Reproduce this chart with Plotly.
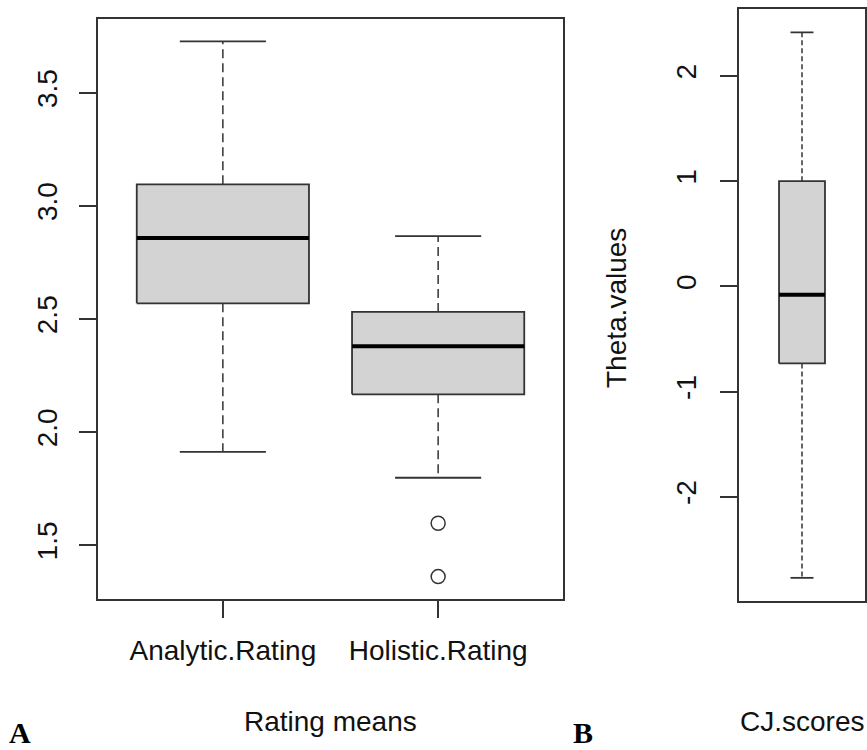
import plotly.graph_objects as go

# ---- data ----
rating_categories = ["Analytic.Rating", "Holistic.Rating"]
rating_lower = [1.912, 1.798]
rating_q1 = [2.569, 2.167]
rating_median = [2.858, 2.379]
rating_q3 = [3.095, 2.531]
rating_upper = [3.727, 2.866]
rating_outliers = [[], [1.597, 1.361]]
rating_yticks = [1.5, 2.0, 2.5, 3.0, 3.5]
rating_yticklabels = ["1.5", "2.0", "2.5", "3.0", "3.5"]

cj_lower = [-2.77]
cj_q1 = [-0.732]
cj_median = [-0.079]
cj_q3 = [1.0]
cj_upper = [2.415]
cj_yticks = [-2, -1, 0, 1, 2]
cj_yticklabels = ["-2", "-1", "0", "1", "2"]

W, H = 867, 750
FONT = "Liberation Sans, Arial, sans-serif"
LINE = "#333333"
FILL = "#d3d3d3"

fig = go.Figure()


def add_boxes(xa, ya, lower, q1, med, q3, upper, outliers, hw, dash):
    for i in range(len(med)):
        c = i + 1
        # whiskers (dashed)
        fig.add_trace(go.Scatter(x=[c, c], y=[q3[i], upper[i]], mode="lines",
                                 line=dict(color=LINE, width=1.5, dash=dash),
                                 xaxis=xa, yaxis=ya, showlegend=False, hoverinfo="skip"))
        fig.add_trace(go.Scatter(x=[c, c], y=[q1[i], lower[i]], mode="lines",
                                 line=dict(color=LINE, width=1.5, dash=dash),
                                 xaxis=xa, yaxis=ya, showlegend=False, hoverinfo="skip"))
        # staples
        for v in (upper[i], lower[i]):
            fig.add_trace(go.Scatter(x=[c - hw / 2, c + hw / 2], y=[v, v], mode="lines",
                                     line=dict(color=LINE, width=1.8),
                                     xaxis=xa, yaxis=ya, showlegend=False, hoverinfo="skip"))
        # box
        fig.add_trace(go.Scatter(x=[c - hw, c + hw, c + hw, c - hw, c - hw],
                                 y=[q1[i], q1[i], q3[i], q3[i], q1[i]],
                                 mode="lines", fill="toself", fillcolor=FILL,
                                 line=dict(color=LINE, width=1.8),
                                 xaxis=xa, yaxis=ya, showlegend=False, hoverinfo="skip"))
        # median
        fig.add_trace(go.Scatter(x=[c - hw, c + hw], y=[med[i], med[i]], mode="lines",
                                 line=dict(color="#000000", width=4),
                                 xaxis=xa, yaxis=ya, showlegend=False, hoverinfo="skip"))
        if outliers and outliers[i]:
            fig.add_trace(go.Scatter(x=[c] * len(outliers[i]), y=outliers[i], mode="markers",
                                     marker=dict(symbol="circle-open", size=14, color=LINE,
                                                 line=dict(color=LINE, width=1.5)),
                                     xaxis=xa, yaxis=ya, showlegend=False, hoverinfo="skip"))


add_boxes("x", "y", rating_lower, rating_q1, rating_median, rating_q3, rating_upper,
          rating_outliers, 0.4, "9px,5px")
add_boxes("x2", "y2", cj_lower, cj_q1, cj_median, cj_q3, cj_upper, None, 0.197, "5px,3px")

axis_common = dict(showline=True, linecolor=LINE, linewidth=1.5, mirror=True,
                   showgrid=False, zeroline=False, ticks="outside", ticklen=17,
                   tickwidth=1.5, tickcolor=LINE,
                   tickfont=dict(family=FONT, size=28, color="#111111"))
x2_common = {k: v for k, v in axis_common.items() if k != "ticks"}

fig.update_layout(
    width=W, height=H,
    margin=dict(l=0, r=0, t=0, b=0),
    paper_bgcolor="white", plot_bgcolor="white",
    xaxis=dict(domain=[98 / W, 563 / W], range=[0.42, 2.58],
               tickmode="array", tickvals=[1, 2], ticktext=rating_categories,
               ticklabelstandoff=9, anchor="y", **axis_common),
    yaxis=dict(domain=[1 - 599 / H, 1 - 19 / H], range=[1.262, 3.826],
               tickmode="array", tickvals=rating_yticks, ticktext=rating_yticklabels,
               tickangle=-90, ticklabelstandoff=11, anchor="x", **axis_common),
    xaxis2=dict(domain=[739 / W, 865 / W], range=[0.46, 1.54], anchor="y2",
                showticklabels=False, ticks="", **x2_common),
    yaxis2=dict(domain=[1 - 601 / H, 1 - 9.3 / H], range=[-2.99, 2.634],
                tickmode="array", tickvals=cj_yticks, ticktext=cj_yticklabels,
                tickangle=-90, ticklabelstandoff=13, anchor="x2", **axis_common),
)

ann_font = dict(family=FONT, size=28, color="#111111")
fig.add_annotation(text="Rating means", x=330.5 / W, y=1 - 721 / H, xref="paper", yref="paper",
                   showarrow=False, font=ann_font, xanchor="center", yanchor="middle")
fig.add_annotation(text="CJ.scores", x=802 / W, y=1 - 721 / H, xref="paper", yref="paper",
                   showarrow=False, font=ann_font, xanchor="center", yanchor="middle")
fig.add_annotation(text="Theta.values", x=616 / W, y=1 - 308 / H, xref="paper", yref="paper",
                   showarrow=False, font=ann_font, textangle=-90,
                   xanchor="center", yanchor="middle")
panel_font = dict(family="Liberation Serif, Times New Roman, serif", size=30, color="#000000")
fig.add_annotation(text="<b>A</b>", x=20 / W, y=0, xref="paper", yref="paper",
                   showarrow=False, font=panel_font, xanchor="center", yanchor="bottom",
                   borderpad=0)
fig.add_annotation(text="<b>B</b>", x=583 / W, y=0, xref="paper", yref="paper",
                   showarrow=False, font=panel_font, xanchor="center", yanchor="bottom",
                   borderpad=0)

fig.write_html("out.html", config={"displayModeBar": False},
               post_script="document.body.style.margin='0';document.body.style.overflow='hidden';")
